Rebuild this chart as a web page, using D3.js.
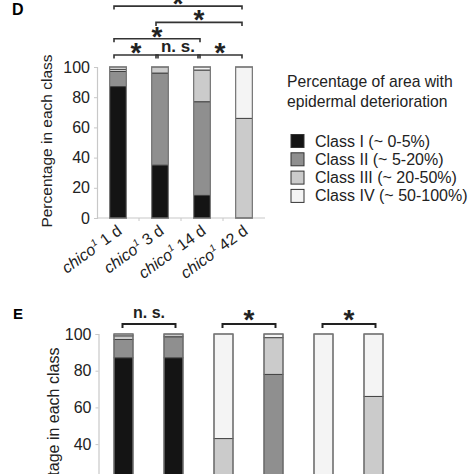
<!DOCTYPE html>
<html><head><meta charset="utf-8">
<script src="https://cdn.jsdelivr.net/npm/d3@7"></script>
<style>
body{margin:0;background:#fff;}
svg{display:block;font-family:"Liberation Sans",Arial,sans-serif;}
</style></head>
<body>
<svg id="c" width="474" height="474"></svg>
<script>
// ---- data ----
const classes = ["Class I (~ 0-5%)","Class II (~ 5-20%)","Class III (~ 20-50%)","Class IV (~ 50-100%)"];
const classKeys = ["I","II","III","IV"];
const classColors = ["#141414","#8f8f8f","#cbcbcb","#f4f4f4"];

const dGenotype = "chico";
const dSup = "1";
const dDays = ["1 d","3 d","14 d","42 d"];
const dClassI   = [87, 35, 15, 0];
const dClassII  = [10, 61, 62, 0];
const dClassIII = [1.5, 4, 21, 66];
const dClassIV  = [1.5, 0, 2, 34];
const dTicks = [0,20,40,60,80,100];
// comparisons: [from, to, level, label]
const dComparisons = [[0,1,1,"*"],[1,2,1,"n. s."],[2,3,1,"*"],[0,2,2,"*"],[1,3,3,"*"],[0,3,4,"*"]];

const eGroups = ["E1","E2","E3","E4","E5","E6"];
const eClassI   = [87, 87, 0, 0, 0, 0];
const eClassII  = [10, 11.5, 0, 78, 0, 0];
const eClassIII = [2, 1.5, 43, 20, 0, 66];
const eClassIV  = [1, 0, 57, 2, 100, 34];
const eTicks = [0,20,40,60,80,100];
const eComparisons = [[0,1,"n. s."],[2,3,"*"],[4,5,"*"]];

const legendTitle = ["Percentage of area with","epidermal deterioration"];
const yLabel = "Percentage in each class";

// ---- drawing ----
const svg = d3.select("#c");
const FONT = "\"Liberation Sans\",Arial,sans-serif";
const stack = d3.stack().keys(classKeys);
function rows(a,b,c,d){ return a.map((_,i)=>({I:a[i],II:b[i],III:c[i],IV:d[i],idx:i})); }

function drawPanel(opts){
  const g = svg.append("g");
  const x = d3.scaleBand().domain(opts.cats).range(opts.xr).paddingInner(opts.pad).paddingOuter(opts.pad/2);
  const y = d3.scaleLinear().domain([0,100]).range(opts.yr);
  const ax = g.append("g").attr("transform",`translate(${opts.xr[0]},0)`)
    .call(d3.axisLeft(y).tickValues(opts.ticks).tickSize(3).tickPadding(4));
  ax.select(".domain").attr("stroke","#c8c8c8").attr("stroke-width",1.2);
  ax.selectAll(".tick line").attr("stroke","#c8c8c8");
  ax.selectAll("text").attr("font-size",opts.tickFont).attr("fill","#222").attr("font-family",FONT);
  const xa = g.append("g").attr("transform",`translate(0,${opts.yr[0]})`);
  xa.append("line").attr("x1",opts.xr[0]).attr("x2",opts.xr[1]).attr("stroke","#c8c8c8").attr("stroke-width",1.2);
  const st = x.step();
  opts.cats.forEach((c,i)=>{ if(i>0){ const bx = x(c) - st*opts.pad/2;
    xa.append("line").attr("x1",bx).attr("x2",bx).attr("y1",0).attr("y2",3).attr("stroke","#c8c8c8"); }});
  const series = stack(opts.data);
  series.forEach((s,k)=>{
    g.append("g").selectAll("rect").data(s).join("rect")
      .attr("x",(d,i)=>x(opts.cats[i]))
      .attr("width",x.bandwidth())
      .attr("y",d=>y(d[1]))
      .attr("height",d=>Math.max(0,y(d[0])-y(d[1])))
      .attr("fill",classColors[k])
      .attr("stroke",d=>(d[1]-d[0])>0?"#3a3a3a":"none")
      .attr("stroke-width",0.9);
  });
  g.append("g").selectAll("rect").data(opts.cats).join("rect")
    .attr("x",c=>x(c)).attr("width",x.bandwidth()).attr("y",y(100)).attr("height",y(0)-y(100))
    .attr("fill","none").attr("stroke","#7a7a7a").attr("stroke-width",1.2);
  return {g,x,y};
}

function star(x, cy, fs){
  svg.append("text").attr("x",x).attr("y",cy+0.57*fs).attr("text-anchor","middle")
    .attr("font-size",fs+"px").attr("font-weight","bold").attr("fill","#222").text("*");
}

// Panel D
const dCats = dDays.map(d=>dGenotype+dSup+" "+d);
const D = drawPanel({cats:dCats,xr:[97,265],yr:[218,67],pad:0.6,ticks:dTicks,tickFont:"16px",
  data:rows(dClassI,dClassII,dClassIII,dClassIV)});
dCats.forEach((c,i)=>{
  const cx = D.x(c)+D.x.bandwidth()/2+5;
  const t = D.g.append("text").attr("transform",`translate(${cx},233) rotate(-36)`)
    .attr("text-anchor","end").attr("font-size","16px").attr("fill","#222");
  t.append("tspan").attr("font-style","italic").text(dGenotype);
  t.append("tspan").attr("font-style","italic").attr("font-size","10px").attr("dy","-6").text(dSup);
  t.append("tspan").attr("dy","6").text(" "+dDays[i]);
});
svg.append("text").attr("transform","translate(52,141) rotate(-90)").attr("text-anchor","middle")
  .attr("font-size","15.5px").attr("fill","#222").text(yLabel);
svg.append("text").attr("x",12).attr("y",15).attr("font-size","16px").attr("font-weight","bold").text("D");
const levelY = l => 71.3 - 16.3*l;
dComparisons.forEach(([a,b,l,lab])=>{
  const x1 = D.x(dCats[a])+D.x.bandwidth()/2-4, x2 = D.x(dCats[b])+D.x.bandwidth()/2-2;
  const yy = levelY(l);
  svg.append("path").attr("d",`M${x1},${yy+3.5}V${yy}H${x2}V${yy+3.5}`).attr("fill","none")
    .attr("stroke","#333").attr("stroke-width",1.6);
  const mx = (x1+x2)/2;
  if(lab==="*") star(mx, yy-9, 28);
  else svg.append("text").attr("x",mx).attr("y",yy-3).attr("text-anchor","middle")
      .attr("font-size","17px").attr("font-weight","bold").attr("fill","#222").text(lab);
});

// Legend
legendTitle.forEach((t,i)=>svg.append("text").attr("x",287).attr("y",87+i*20).attr("font-size","15.7px").attr("fill","#222").text(t));
classes.forEach((c,i)=>{
  const yy = 141 + i*18.3;
  svg.append("rect").attr("x",291).attr("y",yy-6.5).attr("width",13).attr("height",13)
    .attr("fill",classColors[i]).attr("stroke","#333").attr("stroke-width",1);
  svg.append("text").attr("x",315).attr("y",yy+5.5).attr("font-size","16px").attr("fill","#222").text(c);
});

// Panel E
const E = drawPanel({cats:eGroups,xr:[98.5,398.5],yr:[517.5,334],pad:0.62,ticks:eTicks,tickFont:"16px",
  data:rows(eClassI,eClassII,eClassIII,eClassIV)});
svg.append("text").attr("transform","translate(59,437) rotate(-90)").attr("text-anchor","middle")
  .attr("font-size","16px").attr("fill","#222").text(yLabel);
svg.append("text").attr("x",13).attr("y",319).attr("font-size","15px").attr("font-weight","bold").text("E");
eComparisons.forEach(([a,b,lab])=>{
  const x1 = E.x(eGroups[a])+E.x.bandwidth()/2-1, x2 = E.x(eGroups[b])+E.x.bandwidth()/2+2;
  const yy = 324;
  svg.append("path").attr("d",`M${x1},${yy+4}V${yy}H${x2}V${yy+4}`).attr("fill","none")
    .attr("stroke","#222").attr("stroke-width",2);
  const mx=(x1+x2)/2;
  if(lab==="*") star(mx, yy-11, 28);
  else svg.append("text").attr("x",mx).attr("y",318).attr("text-anchor","middle")
      .attr("font-size","16px").attr("font-weight","bold").attr("fill","#222").text(lab);
});
</script>
</body></html>
